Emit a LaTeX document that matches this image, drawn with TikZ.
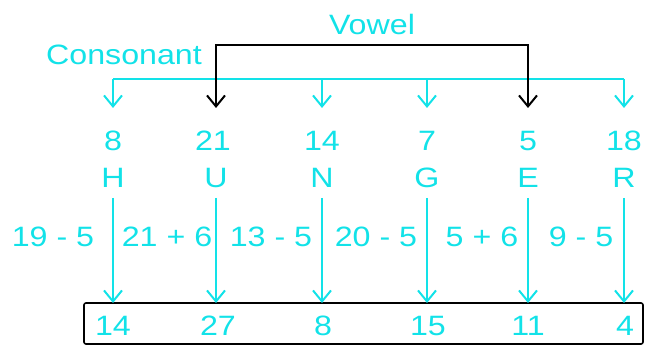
\documentclass[tikz,border=0pt]{standalone}
\usepackage{fontspec}
\setmainfont{Liberation Sans}[FakeStretch=1.15]
\usetikzlibrary{arrows.meta}
\definecolor{aqua}{RGB}{18,226,232}
\tikzset{
  lbl/.style={text=aqua, inner sep=0pt, anchor=base, font=\fontsize{28}{30}\selectfont},
  cyanline/.style={draw=aqua, line width=2pt},
  cyanarrow/.style={cyanline, -{Straight Barb[length=11pt,width=18pt,line width=2pt]}},
  blackarrow/.style={draw=black, line width=2pt,
    {Straight Barb[length=11pt,width=18pt,line width=2pt]}-{Straight Barb[length=11pt,width=18pt,line width=2pt]}},
  resultbox/.style={draw=black, line width=1.6pt, rounded corners=2pt}
}
\begin{document}
\begin{tikzpicture}[x=1pt,y=-1pt]
  \useasboundingbox (0,0) rectangle (646,350);

  % group labels
  \node[lbl] (vowel) at (372,35) {Vowel};
  \node[lbl] (cons)  at (124,65) {Consonant};

  % letter positions in the alphabet
  \node[lbl] (n1) at (113,151) {8};
  \node[lbl] (n2) at (213,151) {21};
  \node[lbl] (n3) at (322,151) {14};
  \node[lbl] (n4) at (427,151) {7};
  \node[lbl] (n5) at (528,151) {5};
  \node[lbl] (n6) at (624,151) {18};

  % the word
  \node[lbl] (l1) at (113,188) {H};
  \node[lbl] (l2) at (216,188) {U};
  \node[lbl] (l3) at (322,188) {N};
  \node[lbl] (l4) at (427,188) {G};
  \node[lbl] (l5) at (528,188) {E};
  \node[lbl] (l6) at (624,188) {R};

  % operations
  \node[lbl] (e1) at (53,247)  {19 - 5};
  \node[lbl] (e2) at (167,247) {21 + 6};
  \node[lbl] (e3) at (271,247) {13 - 5};
  \node[lbl] (e4) at (376,247) {20 - 5};
  \node[lbl] (e5) at (482,247) {5 + 6};
  \node[lbl] (e6) at (581,247) {9 - 5};

  % result box
  \draw[resultbox] (84,303) rectangle (643,344);
  \coordinate (boxtop) at (84,303);
  \node[lbl] (r1) at (113,335) {14};
  \node[lbl] (r2) at (218,335) {27};
  \node[lbl] (r3) at (323,335) {8};
  \node[lbl] (r4) at (428,335) {15};
  \node[lbl] (r5) at (528,335) {11};
  \node[lbl] (r6) at (625,335) {4};

  % consonant bracket
  \coordinate (cbar) at (0,79);
  \coordinate (ctip) at (0,108);
  \draw[cyanline] (n1 |- cbar) -- (n6 |- cbar);
  \foreach \k in {1,3,4,6}
    \draw[cyanarrow] (n\k |- cbar) -- (n\k |- ctip);

  % vowel bracket
  \coordinate (vbar) at (0,45);
  \draw[blackarrow] (l2 |- ctip) -- (l2 |- vbar) -- (l5 |- vbar) -- (l5 |- ctip);

  % letter to result arrows
  \coordinate (ltop) at (0,198);
  \foreach \k in {1,...,6}
    \draw[cyanarrow] (l\k |- ltop) -- (l\k |- boxtop);
\end{tikzpicture}
\end{document}
